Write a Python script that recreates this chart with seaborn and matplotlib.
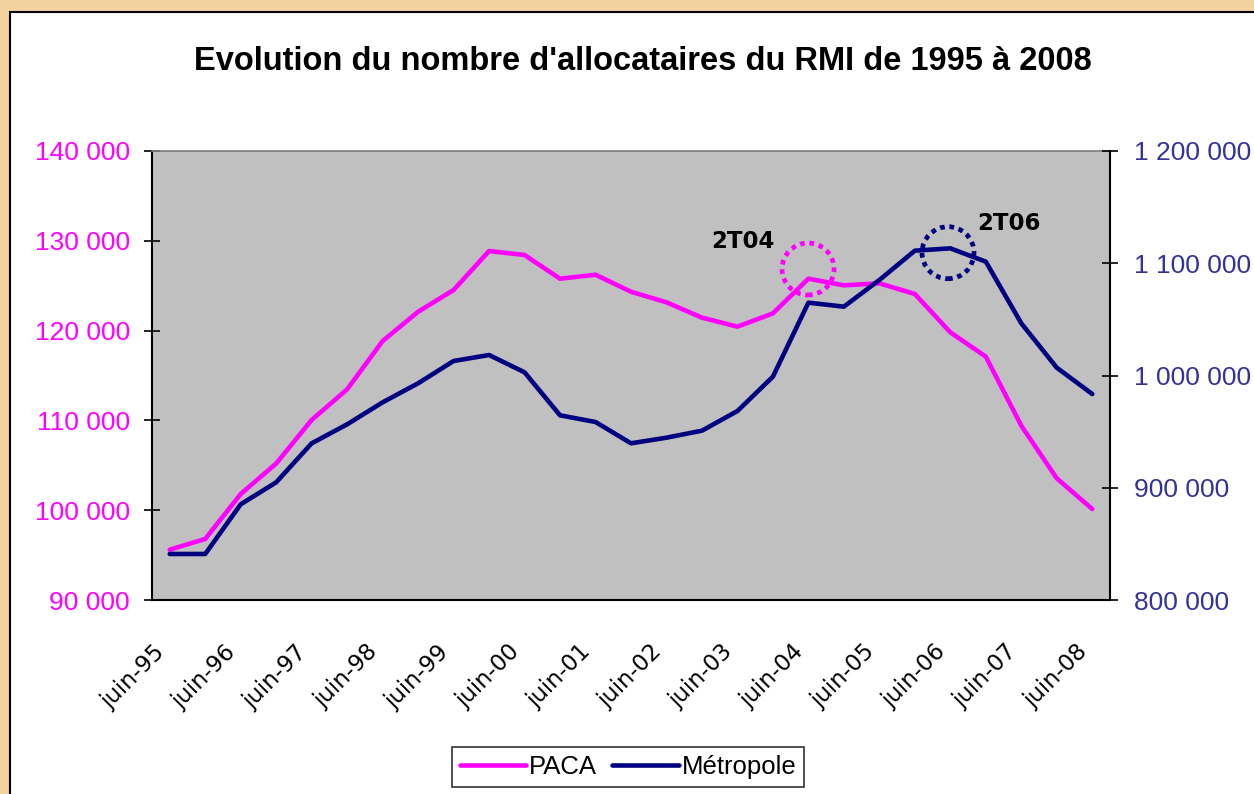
import numpy as np
import pandas as pd
import matplotlib
matplotlib.use("Agg")
import matplotlib.pyplot as plt
import matplotlib.ticker as mticker
from matplotlib.patches import Ellipse, Rectangle
import seaborn as sns

# half-year points, juin-95 ... juin-08
periods = []
for yr in range(1995, 2009):
    periods.append("juin-%02d" % (yr % 100))
    if yr < 2008:
        periods.append("déc-%02d" % (yr % 100))

paca = [95600, 96800, 101800, 105200, 110050, 113460, 118840, 122100, 124520,
        128860, 128420, 125780, 126220, 124330, 123150, 121440, 120440, 121920,
        125780, 125040, 125260, 124080, 119810, 117100, 109410, 103550, 100130]
metropole = [841000, 841000, 885250, 904840, 939580, 956500, 976100, 993040,
             1012920, 1018260, 1002830, 964520, 958570, 939580, 944600, 950840,
             968370, 998960, 1064890, 1061330, 1085080, 1111210, 1113290,
             1101410, 1046480, 1006960, 983520]

left_ticks = [90000, 100000, 110000, 120000, 130000, 140000]
right_ticks = [800000, 900000, 1000000, 1100000, 1200000]

df = pd.DataFrame({"idx": np.arange(len(periods)), "periode": periods,
                   "PACA": paca, "Métropole": metropole})

sns.set_theme(style="white")
plt.rcParams["font.family"] = ["Liberation Sans", "DejaVu Sans"]
plt.rcParams["text.color"] = "black"

fig = plt.figure(figsize=(12.54, 7.94), dpi=100)
fig.patch.set_facecolor("#F2D3A0")
# white panel with black border
panel = Rectangle((10 / 1254, -0.01), 1.02, 1 - 12 / 794 + 0.01,
                  transform=fig.transFigure, facecolor="white",
                  edgecolor="black", linewidth=1.5, zorder=-10)
fig.add_artist(panel)

ax = fig.add_axes([152 / 1254, 1 - 600 / 794, 958 / 1254, 449 / 794])
ax2 = ax.twinx()

sns.lineplot(data=df, x="idx", y="PACA", ax=ax, color="#FF00FF",
             linewidth=3.3, label="PACA", legend=False)
sns.lineplot(data=df, x="idx", y="Métropole", ax=ax2, color="#000080",
             linewidth=3.3, label="Métropole", legend=False)

ax.set_facecolor("#C0C0C0")
ax.set_xlim(-0.5, len(periods) - 0.5)
ax.set_ylim(90000, 140000)
ax2.set_ylim(800000, 1200000)
ax.set_xlabel("")
ax.set_ylabel("")
ax2.set_ylabel("")

fmt = mticker.FuncFormatter(lambda v, p: f"{v:,.0f}".replace(",", " "))
ax.set_yticks(left_ticks)
ax.yaxis.set_major_formatter(fmt)
ax2.set_yticks(right_ticks)
ax2.yaxis.set_major_formatter(fmt)

# x: tick marks at category boundaries, labels every other category
ax.set_xticks(np.arange(0, len(periods), 2))
ax.set_xticklabels(periods[::2], rotation=45, ha="right", va="top",
                   fontsize=16.5, family="DejaVu Sans", color="black")
ax.set_xticks(np.arange(-0.5, len(periods), 1), minor=True)
ax.tick_params(axis="x", which="major", length=0, pad=29)
ax.tick_params(axis="x", which="minor", direction="inout", length=12,
               width=1.2, color="black")
ax.tick_params(axis="y", direction="inout", length=12, width=1.2,
               color="black", labelcolor="#FF00FF", labelsize=19, pad=10,
               left=True)
ax2.tick_params(axis="y", direction="inout", length=12, width=1.2,
                color="black", labelcolor="#333399", labelsize=19, pad=11,
                right=True)

for s in ["left", "bottom"]:
    ax.spines[s].set_color("black")
    ax.spines[s].set_linewidth(1.5)
ax.spines["top"].set_color("#808080")
ax.spines["right"].set_visible(False)
for s in ["left", "top", "bottom"]:
    ax2.spines[s].set_visible(False)
ax2.spines["right"].set_color("black")
ax2.spines["right"].set_linewidth(1.5)
ax.grid(False)
ax2.grid(False)

# highlighted quarters
w, h = 52 / 958, 52 / 449
ax2.add_patch(Ellipse((0.6848, 0.7372), w, h, transform=ax.transAxes,
                      fill=False, edgecolor="#FF00FF", linewidth=3.4,
                      linestyle=(0, (1, 1)), zorder=5))
ax2.add_patch(Ellipse((0.8309, 0.7735), w, h, transform=ax.transAxes,
                      fill=False, edgecolor="#000080", linewidth=3.4,
                      linestyle=(0, (1, 1)), zorder=5))
ax2.text(0.5835, 0.784, "2T04", transform=ax.transAxes, fontsize=16.5,
         fontweight="bold", family="DejaVu Sans", color="black")
ax2.text(0.8612, 0.8247, "2T06", transform=ax.transAxes, fontsize=16.5,
         fontweight="bold", family="DejaVu Sans", color="black")

fig.text(643 / 1254, 1 - 61 / 794, "Evolution du nombre d'allocataires du RMI de 1995 à 2008",
         ha="center", va="center", fontsize=23.5, fontweight="bold", color="black")

h1, l1 = ax.get_legend_handles_labels()
h2, l2 = ax2.get_legend_handles_labels()
leg = fig.legend(h1 + h2, l1 + l2, loc="center", bbox_to_anchor=(628 / 1254, 1 - 767 / 794),
                 ncol=2, fontsize=18.5, frameon=True, fancybox=False,
                 edgecolor="black", handlelength=2.6, handletextpad=0.1,
                 columnspacing=0.6, borderpad=0.3)
leg.get_frame().set_linewidth(1.2)
for t in leg.get_texts():
    t.set_color("black")

fig.savefig("out.png", dpi=100, facecolor=fig.get_facecolor())
